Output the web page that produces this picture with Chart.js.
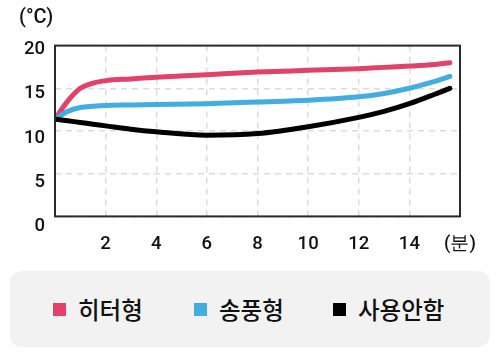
<!DOCTYPE html>
<html>
<head>
<meta charset="utf-8">
<script src="https://cdn.jsdelivr.net/npm/chart.js@4"></script>
<style>
html,body{margin:0;padding:0;background:#fff;width:500px;height:356px;overflow:hidden;}
#wrap{position:absolute;left:0;top:0;width:500px;height:262px;}
#unit{position:absolute;left:19px;top:4px;font:500 20px Roboto,sans-serif;color:#111;}
#legend{position:absolute;left:10px;top:271px;width:480px;height:76px;background:#f2f2f2;border-radius:12px;}
.item{position:absolute;top:0;height:76px;display:flex;align-items:center;font:500 23.5px "Noto Sans CJK KR",sans-serif;color:#111;}
.sw{width:13px;height:13px;margin-right:12px;}
</style>
</head>
<body>
<div id="wrap"><canvas id="c"></canvas></div>
<div id="unit">(°C)</div>
<div id="legend"></div>
<script>
const minutes = [0, 0.5, 1, 1.5, 2, 3, 4, 6, 8, 10, 12, 13, 14, 15, 15.6];
const heater = [11.4, 13.5, 15.0, 15.6, 15.9, 16.1, 16.3, 16.6, 16.9, 17.1, 17.3, 17.45, 17.6, 17.8, 18.0];
const blower = [11.4, 12.3, 12.75, 12.9, 13.0, 13.05, 13.1, 13.2, 13.4, 13.6, 14.0, 14.4, 15.0, 15.8, 16.4];
const unused = [11.4, 11.2, 11.0, 10.8, 10.6, 10.2, 9.9, 9.5, 9.7, 10.5, 11.6, 12.3, 13.2, 14.3, 15.0];
const seriesNames = ['히터형', '송풍형', '사용안함'];
const seriesColors = ['#e2426a', '#42ade0', '#000000'];
const xTickLabels = {2:'2',4:'4',6:'6',8:'8',10:'10',12:'12',14:'14',16:'(분)'};
const yTicks = [0, 5, 10, 15, 20];

const allValues = [heater, blower, unused];
const datasets = allValues.map((vals, i) => ({
  label: seriesNames[i],
  data: minutes.map((m, j) => ({x: m, y: vals[j]})),
  borderColor: seriesColors[i],
  backgroundColor: seriesColors[i],
  borderWidth: 5,
  borderCapStyle: 'round',
  pointRadius: 0,
  cubicInterpolationMode: 'monotone',
  fill: false
})).reverse();

const boxPlugin = {
  id: 'box',
  afterDatasetsDraw(chart) {
    const {ctx, chartArea: a} = chart;
    ctx.save();
    ctx.strokeStyle = '#2a2a2a';
    ctx.lineWidth = 2;
    ctx.strokeRect(a.left, a.top, a.right - a.left, a.bottom - a.top);
    // y tick labels, drawn slightly below each gridline (spreading downwards)
    const ys = chart.scales.y;
    ctx.fillStyle = '#111';
    ctx.font = '500 18.5px Roboto';
    ctx.textAlign = 'right';
    ctx.textBaseline = 'middle';
    yTicks.forEach(v => {
      const off = 4 + (20 - v) * 0.3;
      ctx.fillText(String(v), ys.right - 10, ys.getPixelForValue(v) + off);
    });
    ctx.restore();
  }
};

new Chart(document.getElementById('c'), {
  type: 'line',
  data: { datasets },
  options: {
    responsive: true,
    maintainAspectRatio: false,
    animation: false,
    layout: { padding: { left: 0, top: 45.6, right: 40, bottom: 0 } },
    plugins: { legend: { display: false }, tooltip: { enabled: false } },
    scales: {
      x: {
        type: 'linear', min: 0, max: 16,
        afterFit(s) { s.height = 45.6; },
        afterBuildTicks(s) { s.ticks = [2,4,6,8,10,12,14,16].map(v => ({value: v})); },
        grid: { color: '#dcdcdc', lineWidth: 1.5, drawTicks: false },
        border: { display: false, dash: [6, 5] },
        ticks: {
          padding: 17, color: '#111',
          font: { family: 'Roboto', size: 18.5, weight: '500' },
          maxRotation: 0, autoSkip: false,
          callback: v => xTickLabels[v] || ''
        }
      },
      y: {
        min: 0, max: 20,
        afterFit(s) { s.width = 55; },
        afterBuildTicks(s) { s.ticks = yTicks.map(v => ({value: v})); },
        grid: { color: '#dcdcdc', lineWidth: 1.5, drawTicks: false },
        border: { display: false, dash: [6, 5] },
        ticks: { display: false }
      }
    }
  },
  plugins: [boxPlugin]
});

const leg = document.getElementById('legend');
const lefts = [43, 184, 323];
seriesNames.forEach((n, i) => {
  const d = document.createElement('div');
  d.className = 'item';
  d.style.left = lefts[i] + 'px';
  d.innerHTML = '<div class="sw" style="background:' + seriesColors[i] + '"></div><span>' + n + '</span>';
  leg.appendChild(d);
});
</script>
</body>
</html>
